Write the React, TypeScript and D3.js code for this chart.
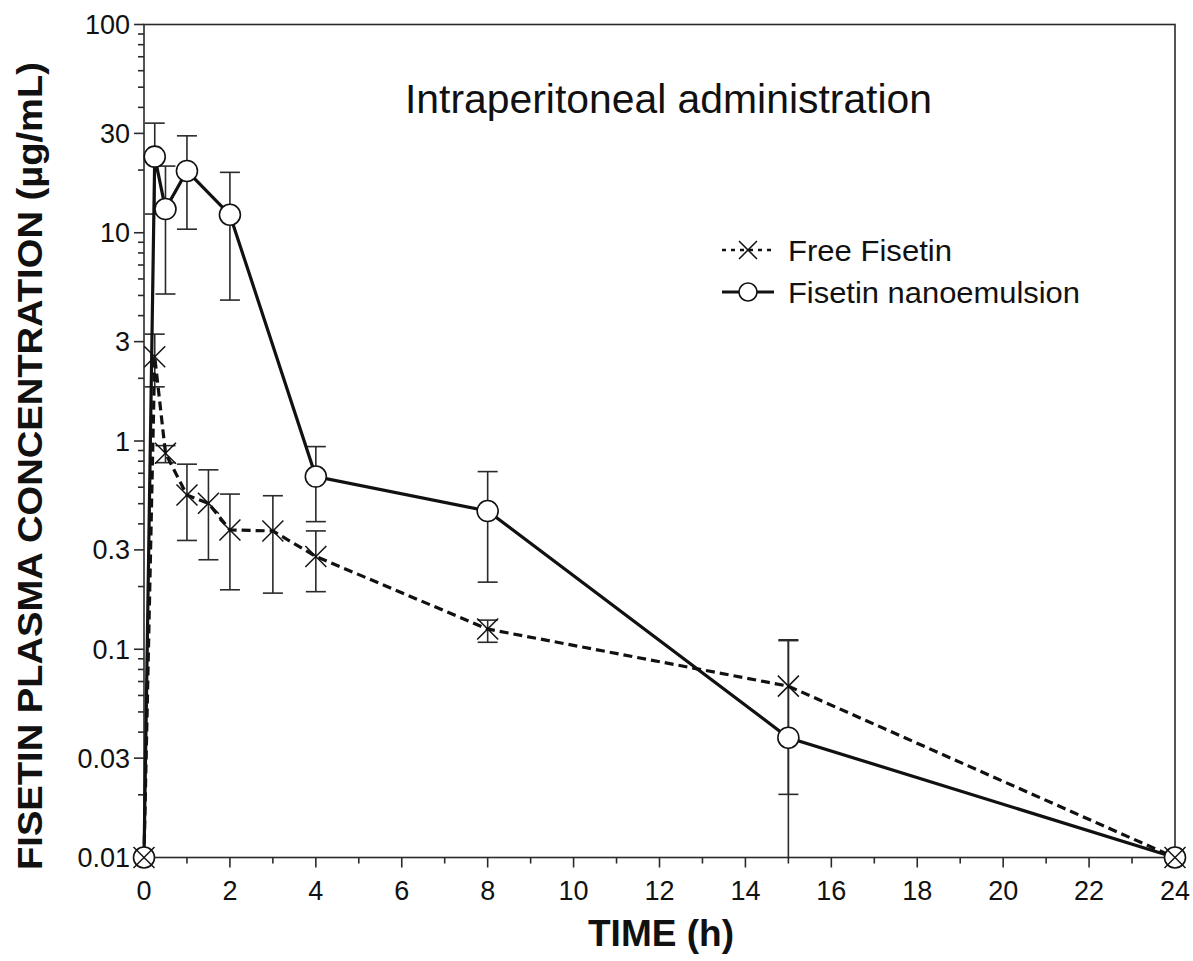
import React from "react";
import * as d3 from "d3";

const W = 1193;
const H = 961;

const nanoTimes = [0, 0.25, 0.5, 1, 2, 4, 8, 15, 24];
const nanoMeans = [0.01, 23.2, 13.0, 19.8, 12.2, 0.675, 0.461, 0.0376, 0.01];
const nanoUpper = [null, 33.6, 20.9, 29.2, 19.5, 0.94, 0.713, 0.111, null];
const nanoLower = [null, 12.3, 5.08, 10.4, 4.75, 0.41, 0.21, 0.005, null];

const freeTimes = [0, 0.25, 0.5, 1, 1.5, 2, 3, 4, 8, 15, 24];
const freeMeans = [0.01, 2.54, 0.874, 0.55, 0.502, 0.374, 0.37, 0.279, 0.125, 0.0665, 0.01];
const freeUpper = [null, 3.26, 0.95, 0.774, 0.727, 0.556, 0.546, 0.37, 0.138, 0.11, null];
const freeLower = [null, 1.82, 0.787, 0.333, 0.269, 0.193, 0.186, 0.189, 0.108, 0.0201, null];

const xMajorTicks = [0, 2, 4, 6, 8, 10, 12, 14, 16, 18, 20, 22, 24];
const xMinorTicks = [1, 3, 5, 7, 9, 11, 13, 15, 17, 19, 21, 23];
const yMajorTicks = [0.01, 0.03, 0.1, 0.3, 1, 3, 10, 30, 100];
const yMajorLabels = ["0.01", "0.03", "0.1", "0.3", "1", "3", "10", "30", "100"];
const yMinorMultipliers = [2, 4, 5, 6, 7, 8, 9];
const yDecades = [0.01, 0.1, 1, 10];

const titleText = "Intraperitoneal administration";
const xTitle = "TIME (h)";
const yTitle = "FISETIN PLASMA CONCENTRATION (\u00b5g/mL)";
const legendLabels = ["Free Fisetin", "Fisetin nanoemulsion"];

const FONT = "'Liberation Sans', Arial, Helvetica, sans-serif";
const AX = "#2a2a2a";

export default function App() {
  const x = d3.scaleLinear().domain([0, 24]).range([144, 1175]);
  const y = d3.scaleLog().domain([0.01, 100]).range([857.5, 24.5]);
  const y0 = y(0.01);

  const yMinor: number[] = [];
  yDecades.forEach((d) => yMinorMultipliers.forEach((m) => yMinor.push(d * m)));

  const line = d3
    .line<[number, number]>()
    .x((d) => x(d[0]))
    .y((d) => y(d[1]));

  const nanoPts: [number, number][] = nanoTimes.map((t, i) => [t, nanoMeans[i]]);
  const freePts: [number, number][] = freeTimes.map((t, i) => [t, freeMeans[i]]);

  const errBars = (times: number[], upper: (number | null)[], lower: (number | null)[], key: string) =>
    times.map((t, i) => {
      const u = upper[i];
      const l = lower[i];
      if (u == null || l == null) return null;
      const cx = x(t);
      const yu = y(u);
      const lowIn = l >= 0.01;
      const yl = lowIn ? y(l) : y0;
      return (
        <g key={key + i} stroke={AX} strokeWidth={1.6}>
          <line x1={cx} x2={cx} y1={yu} y2={yl} />
          <line x1={cx - 10} x2={cx + 10} y1={yu} y2={yu} />
          {lowIn && <line x1={cx - 10} x2={cx + 10} y1={yl} y2={yl} />}
        </g>
      );
    });

  const xMarker = (cx: number, cy: number, k: string, s = 10.5) => (
    <g key={k} stroke="#111" strokeWidth={1.5}>
      <line x1={cx - s} y1={cy - s} x2={cx + s} y2={cy + s} />
      <line x1={cx - s} y1={cy + s} x2={cx + s} y2={cy - s} />
    </g>
  );

  return (
    <svg
      width={W}
      height={H}
      style={{ position: "absolute", left: 0, top: 0, background: "#fff" }}
      fontFamily={FONT}
    >
      <rect x={0} y={0} width={W} height={H} fill="#fff" />

      {/* frame */}
      <rect
        x={x(0)}
        y={y(100)}
        width={x(24) - x(0)}
        height={y0 - y(100)}
        fill="none"
        stroke={AX}
        strokeWidth={1.6}
      />

      {/* x ticks */}
      {xMajorTicks.map((t) => (
        <g key={"xm" + t}>
          <line x1={x(t)} x2={x(t)} y1={y0} y2={y0 + 10} stroke={AX} strokeWidth={1.6} />
          <text x={x(t)} y={y0 + 42} fontSize={27} textAnchor="middle" fill="#111">
            {t}
          </text>
        </g>
      ))}
      {xMinorTicks.map((t) => (
        <line key={"xn" + t} x1={x(t)} x2={x(t)} y1={y0} y2={y0 + 6} stroke={AX} strokeWidth={1.6} />
      ))}

      {/* y ticks */}
      {yMajorTicks.map((v, i) => (
        <g key={"ym" + v}>
          <line x1={x(0) - 10} x2={x(0)} y1={y(v)} y2={y(v)} stroke={AX} strokeWidth={1.6} />
          <text x={x(0) - 14} y={y(v) + 9.5} fontSize={27} textAnchor="end" fill="#111">
            {yMajorLabels[i]}
          </text>
        </g>
      ))}
      {yMinor
        .filter((v) => !yMajorTicks.some((m) => Math.abs(m - v) < 1e-9))
        .map((v) => (
          <line key={"yn" + v} x1={x(0) - 6} x2={x(0)} y1={y(v)} y2={y(v)} stroke={AX} strokeWidth={1.6} />
        ))}

      {/* error bars */}
      {errBars(nanoTimes, nanoUpper, nanoLower, "ne")}
      {errBars(freeTimes, freeUpper, freeLower, "fe")}

      {/* lines */}
      <path d={line(freePts) || ""} fill="none" stroke="#111" strokeWidth={3.2} strokeDasharray="9,5" />
      <path d={line(nanoPts) || ""} fill="none" stroke="#111" strokeWidth={3.2} />

      {/* markers */}
      {nanoPts.map((p, i) => (
        <circle key={"nc" + i} cx={x(p[0])} cy={y(p[1])} r={10.5} fill="#fff" stroke="#111" strokeWidth={1.6} />
      ))}
      {freePts.map((p, i) => xMarker(x(p[0]), y(p[1]), "fx" + i))}

      {/* title */}
      <text x={405} y={113} fontSize={40} fill="#111" textLength={527} lengthAdjust="spacingAndGlyphs">
        {titleText}
      </text>

      {/* legend */}
      <g>
        <line x1={722} x2={774} y1={250} y2={250} stroke="#111" strokeWidth={2.5} strokeDasharray="4,5" />
        {xMarker(748, 250, "lgx", 9)}
        <text x={788} y={261} fontSize={30} fill="#111" textLength={164} lengthAdjust="spacingAndGlyphs">
          {legendLabels[0]}
        </text>
        <line x1={722} x2={774} y1={292} y2={292} stroke="#111" strokeWidth={3} />
        <circle cx={748} cy={292} r={9} fill="#fff" stroke="#111" strokeWidth={1.6} />
        <text x={788} y={303} fontSize={30} fill="#111" textLength={292} lengthAdjust="spacingAndGlyphs">
          {legendLabels[1]}
        </text>
      </g>

      {/* axis titles */}
      <text x={661} y={946} fontSize={36} fontWeight="bold" textAnchor="middle" fill="#111" textLength={146} lengthAdjust="spacingAndGlyphs">
        {xTitle}
      </text>
      <text
        transform={`translate(42, ${466}) rotate(-90)`}
        fontSize={35}
        fontWeight="bold"
        textAnchor="middle"
        fill="#111"
        textLength={808}
        lengthAdjust="spacingAndGlyphs"
      >
        {yTitle}
      </text>
    </svg>
  );
}
